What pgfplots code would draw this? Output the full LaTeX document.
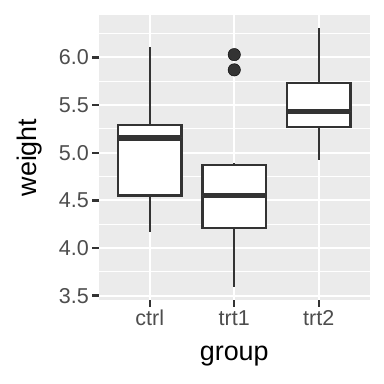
\documentclass[border=0pt]{standalone}
\usepackage{pgfplots}
\pgfplotsset{compat=1.18}
\usepgfplotslibrary{statistics}
\usepackage{fontspec}
\setmainfont{Liberation Sans}
\definecolor{gray92}{HTML}{EBEBEB}
\definecolor{gray20}{HTML}{333333}
\definecolor{gray30}{HTML}{4D4D4D}
\begin{document}
\begin{tikzpicture}
\begin{axis}[
  at={(0,0)}, anchor=south west,
  scale only axis, width=270.5bp, height=285bp,
  xmin=0.4, xmax=3.6, ymin=3.454, ymax=6.446,
  boxplot/draw direction=y,
  axis line style={draw=none},
  axis background/.style={fill=gray92},
  xtick={1,2,3}, xticklabels={ctrl,trt1,trt2},
  ytick={3.5,4,4.5,5,5.5,6},
  minor ytick={3.75,4.25,4.75,5.25,5.75,6.25},
  yticklabel style={/pgf/number format/.cd, fixed, fixed zerofill, precision=1},
  /pgf/number format/assume math mode=true,
  ticklabel style={font=\fontsize{21.6}{24}\selectfont, text=gray30},
  tick pos=left, tick align=outside, major tick length=6.7bp, minor tick length=0pt,
  major tick style={draw=gray20, line width=2.3bp},
  grid=both,
  major grid style={draw=white, line width=2bp},
  minor grid style={draw=white, line width=1bp},
  xlabel={group}, ylabel={weight},
  label style={font=\fontsize{27}{30}\selectfont, text=black},
  xlabel style={at={(axis description cs:0.5,-0.213)}, anchor=base},
  ylabel style={at={(axis description cs:-0.2329,0.5)}, anchor=base, rotate=0},
]
\addplot[boxplot prepared={draw position=1, lower whisker=4.17, lower quartile=4.55, median=5.155, upper quartile=5.2925, upper whisker=6.11, box extend=0.75, whisker extend=0, every median/.style={line width=5.3bp}}, draw=gray20, fill=white, line width=2.3bp] coordinates {};
\addplot[boxplot prepared={draw position=2, lower whisker=3.59, lower quartile=4.2075, median=4.55, upper quartile=4.87, upper whisker=4.89, box extend=0.75, whisker extend=0, every median/.style={line width=5.3bp}}, draw=gray20, fill=white, line width=2.3bp] coordinates {};
\addplot[boxplot prepared={draw position=3, lower whisker=4.92, lower quartile=5.2675, median=5.435, upper quartile=5.735, upper whisker=6.31, box extend=0.75, whisker extend=0, every median/.style={line width=5.3bp}}, draw=gray20, fill=white, line width=2.3bp] coordinates {};
\addplot[only marks, mark=*, mark size=6.2bp, draw=none, fill=gray20] coordinates {(2,5.87) (2,6.03)};
\end{axis}
\pgfresetboundingbox
\path[use as bounding box] (-99bp,-84bp) rectangle (285bp,300bp);
\end{tikzpicture}
\end{document}
